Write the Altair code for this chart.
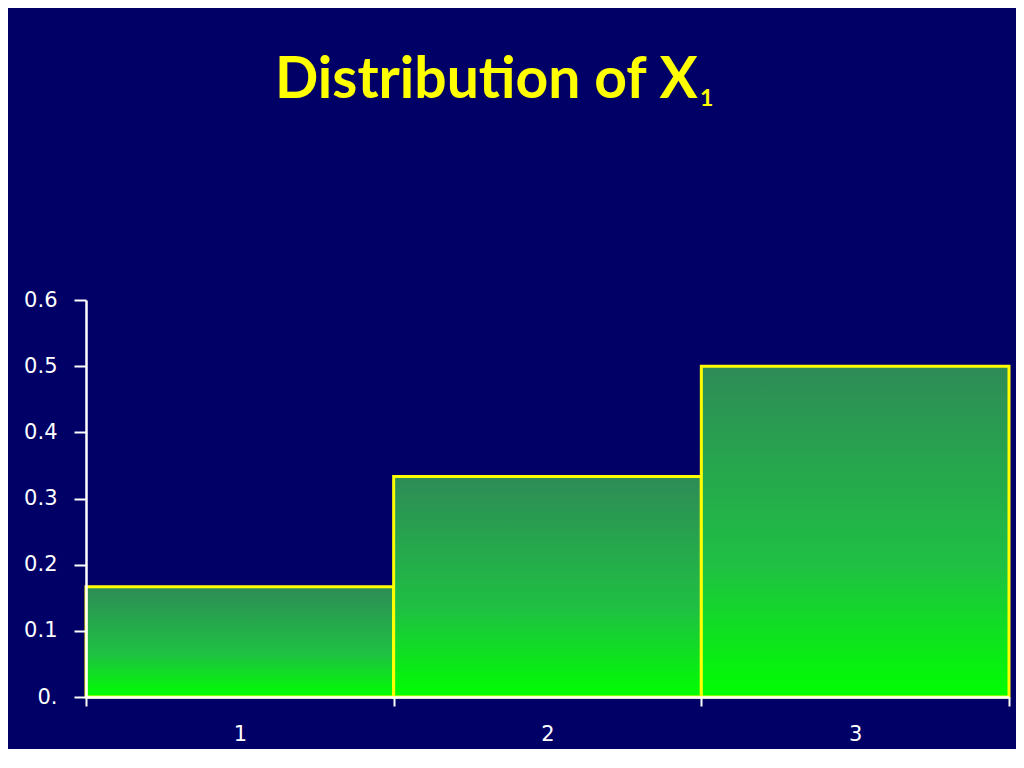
import altair as alt
import pandas as pd

# Data
outcomes = [1, 2, 3]
probs = [0.1667, 0.3333, 0.5]
y_ticks = [0.0, 0.1, 0.2, 0.3, 0.4, 0.5, 0.6]
x_tick_values = [0.5, 1, 1.5, 2, 2.5, 3, 3.5]
title_main = "Distribution of X"
title_sub = "1"

df = pd.DataFrame({"x": outcomes, "p": probs})

BG = "#000066"
W, H = 923, 397

gradient = alt.Gradient(
    gradient="linear",
    stops=[
        alt.GradientStop(color="#2E8B57", offset=0),
        alt.GradientStop(color="#1FC043", offset=0.6),
        alt.GradientStop(color="#00FF00", offset=1),
    ],
    x1=0, x2=0, y1=0, y2=1,
)

x_axis = alt.Axis(
    values=x_tick_values,
    labelExpr="datum.value % 1 === 0 ? format(datum.value, 'd') : ''",
    tickOpacity={"condition": {"test": "datum.value % 1 === 0", "value": 0}, "value": 1},
    tickSize=9, tickWidth=2, tickColor="white",
    domainColor="white", domainWidth=2.5,
    labelColor="white", labelFont="DejaVu Sans", labelFontSize=21,
    labelPadding=17, grid=False, title=None, zindex=1,
)
y_axis = alt.Axis(
    values=y_ticks,
    labelExpr="datum.value == 0 ? '0.' : format(datum.value, '.1f')",
    tickSize=12, tickWidth=2, tickColor="white",
    domainColor="white", domainWidth=2.5,
    labelColor="white", labelFont="DejaVu Sans", labelFontSize=21,
    labelPadding=17, grid=False, title=None, zindex=1,
)

bars = alt.Chart(df).transform_calculate(
    lo="datum.x - 0.5", hi="datum.x + 0.5"
).mark_rect(fill=gradient, stroke="#FFFF00", strokeWidth=3).encode(
    x=alt.X("lo:Q", scale=alt.Scale(domain=[0.5, 3.5], nice=False, zero=False), axis=x_axis),
    x2="hi:Q",
    y=alt.Y("p:Q", scale=alt.Scale(domain=[0, 0.6], nice=False), axis=y_axis),
    y2=alt.datum(0),
)

t_main = alt.Chart(pd.DataFrame({"t": [title_main]})).mark_text(
    font="Lato", fontWeight="bold", fontSize=57, color="#FFFF00",
    align="left", baseline="alphabetic",
).encode(text="t:N", x=alt.value(189), y=alt.value(-202))

t_sub = alt.Chart(pd.DataFrame({"t": [title_sub]})).mark_text(
    font="Lato", fontWeight="bold", fontSize=23, color="#FFFF00",
    align="left", baseline="alphabetic",
).encode(text="t:N", x=alt.value(614), y=alt.value(-194))

chart = alt.layer(bars, t_main, t_sub).properties(
    width=W, height=H,
    autosize=alt.AutoSizeParams(type="none"),
    padding={"left": 78, "top": 292, "right": 7, "bottom": 52},
).configure(background=BG).configure_view(stroke=None)

chart.save("out.html", embed_options={"renderer": "svg", "actions": False})
